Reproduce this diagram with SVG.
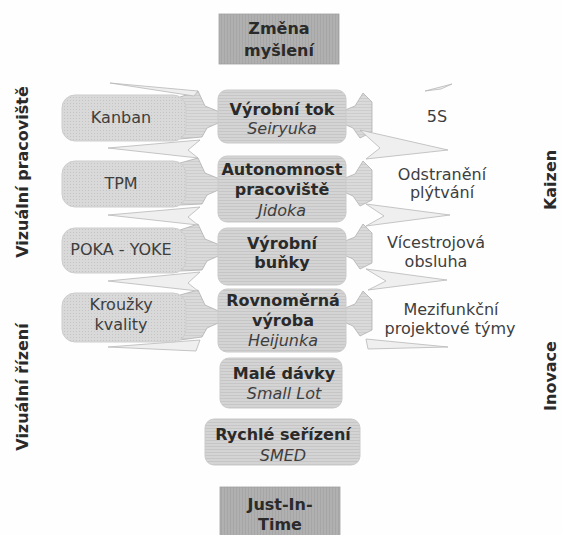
<svg xmlns="http://www.w3.org/2000/svg" width="563" height="535" viewBox="0 0 563 535">
<defs>
<pattern id="hs" width="6" height="3" patternUnits="userSpaceOnUse"><rect width="6" height="3" fill="#d4d4d4"/><rect y="2" width="6" height="1" fill="#c6c6c6"/></pattern>
<pattern id="dots" width="3" height="3" patternUnits="userSpaceOnUse"><rect width="3" height="3" fill="#d9d9d9"/><rect x="1" y="1" width="1" height="1" fill="#c4c4c4"/></pattern>
<pattern id="dk" width="3" height="3" patternUnits="userSpaceOnUse"><rect width="3" height="3" fill="#b0b0b0"/><rect x="2" width="1" height="3" fill="#a6a6a6"/></pattern>
<pattern id="ar" width="6" height="3" patternUnits="userSpaceOnUse"><rect width="6" height="3" fill="#dadada"/><rect y="2" width="6" height="1" fill="#cdcdcd"/></pattern>
</defs>
<style>
.b{font-family:"DejaVu Sans",Verdana,sans-serif;font-weight:bold;font-size:16px;fill:#2a2a2a;text-anchor:middle}
.r{font-family:"DejaVu Sans",Verdana,sans-serif;font-size:16px;fill:#3e3e3e;text-anchor:middle}
.i{font-family:"DejaVu Sans",Verdana,sans-serif;font-style:italic;font-size:16px;fill:#3e3e3e;text-anchor:middle}
.s{font-family:"DejaVu Sans",Verdana,sans-serif;font-weight:bold;font-size:16px;fill:#2a2a2a;text-anchor:middle}
.cb{fill:url(#hs);stroke:#cacaca;stroke-width:1}
.lb{fill:url(#dots);stroke:#cdcdcd;stroke-width:1}
.db{fill:url(#dk);stroke:#a0a0a0;stroke-width:0.8}
.arw{fill:url(#ar);stroke:#b0b0b0;stroke-width:0.8;stroke-linejoin:miter}
.wd{fill:#efefef;stroke:#b8b8b8;stroke-width:0.8}
</style>
<rect width="563" height="535" fill="#fefefe"/>

<g id="connectors">
<polygon class="arw" points="180,97 198,91 205,106 232,117 207,128 202,137 180,139"/>
<polygon class="arw" points="180,163 198,158 205,173 232,184 207,195 202,204 180,205"/>
<polygon class="arw" points="180,230 198,224 205,239 232,250 207,261 202,270 180,271"/>
<polygon class="arw" points="180,295 198,290 205,305 232,317 207,328 202,337 180,340"/>
<polygon class="arw" points="372,102 363,93 355,106 328,117 353,128 360,138 372,132"/>
<polygon class="arw" points="372,170 363,161 355,174 328,185 353,196 360,206 372,200"/>
<polygon class="arw" points="372,233 363,224 355,237 328,248 353,259 360,269 372,263"/>
<polygon class="arw" points="372,300 363,291 355,304 328,315 353,326 360,336 372,330"/>
<polygon class="wd" points="110,83 198,91 194,96"/>
<polygon class="wd" points="200,140 108,148 198,158 188,150"/>
<polygon class="wd" points="200,207 108,215 198,225 188,217"/>
<polygon class="wd" points="200,272 108,281 198,291 188,283"/>
<polygon class="wd" points="200,340 108,347 196,351"/>
<polygon class="wd" points="425,91 452,84 441,89"/>
<polygon class="wd" points="360,130 448,150 366,159 380,148"/>
<polygon class="wd" points="366,204 450,215 366,226 384,216"/>
<polygon class="wd" points="366,269 447,280 368,290 386,281"/>
<polygon class="wd" points="366,339 448,347 368,349"/>
</g>

<g id="zmena"><rect class="db" x="219" y="14" width="120" height="50"/><text class="b" x="279" y="34">Změna</text><text class="b" x="279" y="56">myšlení</text></g>

<g id="kanban"><rect class="lb" x="62" y="95" width="124" height="46" rx="13"/><text class="r" x="121" y="123">Kanban</text></g>
<g id="tpm"><rect class="lb" x="62" y="161" width="124" height="46" rx="13"/><text class="r" x="121" y="189">TPM</text></g>
<g id="pokayoke"><rect class="lb" x="62" y="228" width="124" height="45" rx="13"/><text class="r" x="121" y="255">POKA - YOKE</text></g>
<g id="krouzky"><rect class="lb" x="62" y="293" width="124" height="49" rx="13"/><text class="r" x="121" y="310">Kroužky</text><text class="r" x="121" y="330">kvality</text></g>

<g id="vyrobni-tok"><rect class="cb" x="218" y="90" width="128" height="53" rx="9"/><text class="b" x="282" y="115">Výrobní tok</text><text class="i" x="282" y="134">Seiryuka</text></g>
<g id="autonomnost"><rect class="cb" x="218" y="156" width="128" height="66" rx="9"/><text class="b" x="282" y="175">Autonomnost</text><text class="b" x="282" y="195">pracoviště</text><text class="i" x="282" y="216">Jidoka</text></g>
<g id="vyrobni-bunky"><rect class="cb" x="218" y="228" width="128" height="57" rx="9"/><text class="b" x="282" y="249">Výrobní</text><text class="b" x="282" y="268">buňky</text></g>
<g id="rovnomerna"><rect class="cb" x="218" y="289" width="128" height="63" rx="9"/><text class="b" x="283" y="306">Rovnoměrná</text><text class="b" x="283" y="326">výroba</text><text class="i" x="283" y="346">Heijunka</text></g>
<g id="male-davky"><rect class="cb" x="220" y="358" width="122" height="50" rx="9"/><text class="b" x="284" y="379">Malé dávky</text><text class="i" x="284" y="399">Small Lot</text></g>
<g id="rychle"><rect class="cb" x="205" y="419" width="155" height="46" rx="9"/><text class="b" x="283" y="440">Rychlé seřízení</text><text class="i" x="283" y="461">SMED</text></g>
<g id="jit"><rect class="db" x="220" y="487" width="120" height="52"/><text class="b" x="280" y="510">Just-In-</text><text class="b" x="280" y="530">Time</text></g>

<g id="5s"><text class="r" x="437" y="122">5S</text></g>
<g id="odstraneni"><text class="r" x="442" y="180">Odstranění</text><text class="r" x="442" y="198">plýtvání</text></g>
<g id="vicestrojova"><text class="r" x="436" y="248">Vícestrojová</text><text class="r" x="436" y="267">obsluha</text></g>
<g id="mezifunkcni"><text class="r" x="451" y="315">Mezifunkční</text><text class="r" x="450" y="334">projektové týmy</text></g>

<g id="vizualni-pracoviste"><text class="s" transform="translate(28,172) rotate(-90)">Vizuální pracoviště</text></g>
<g id="vizualni-rizeni"><text class="s" transform="translate(28,387) rotate(-90)">Vizuální řízení</text></g>
<g id="kaizen"><text class="s" transform="translate(556,180) rotate(-90)">Kaizen</text></g>
<g id="inovace"><text class="s" transform="translate(556,376) rotate(-90)">Inovace</text></g>
</svg>
